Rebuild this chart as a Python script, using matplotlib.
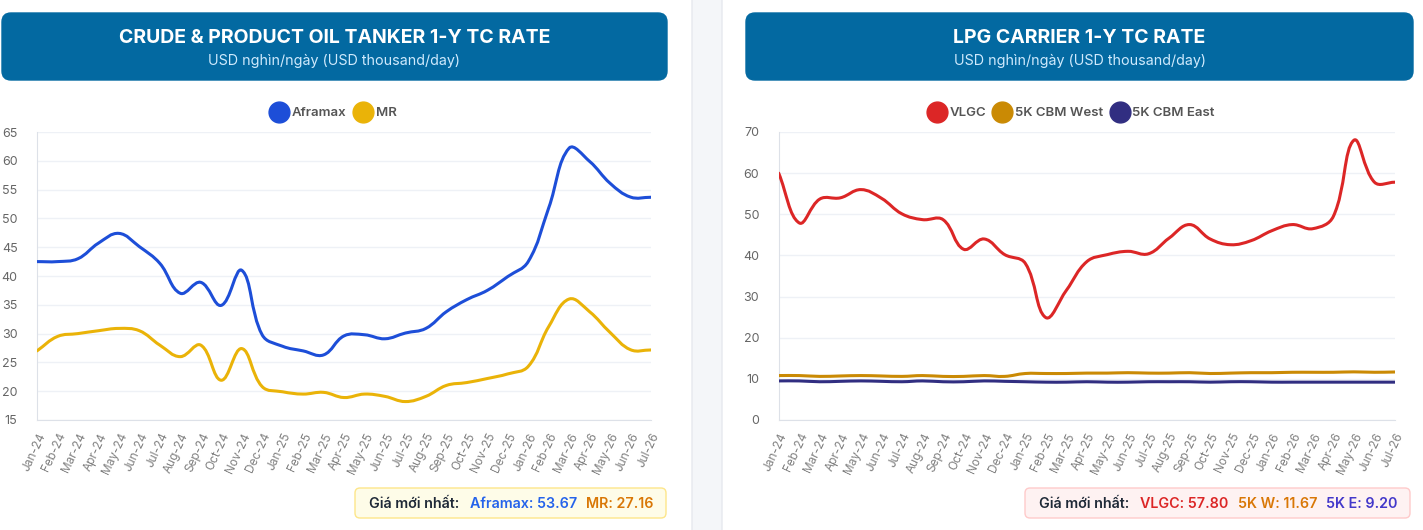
import numpy as np
import matplotlib
matplotlib.use("Agg")
import matplotlib.pyplot as plt
from matplotlib.path import Path
from matplotlib.patches import PathPatch, FancyBboxPatch
from matplotlib.lines import Line2D

plt.rcParams['font.family'] = ['Inter', 'DejaVu Sans']

# du lieu doc tu hinh
months = ["Jan-24", "Feb-24", "Mar-24", "Apr-24", "May-24", "Jun-24", "Jul-24", "Aug-24",
          "Sep-24", "Oct-24", "Nov-24", "Dec-24", "Jan-25", "Feb-25", "Mar-25", "Apr-25",
          "May-25", "Jun-25", "Jul-25", "Aug-25", "Sep-25", "Oct-25", "Nov-25", "Dec-25",
          "Jan-26", "Feb-26", "Mar-26", "Apr-26", "May-26", "Jun-26", "Jul-26"]

aframax = [42.5, 42.5, 43.0, 45.7, 47.4, 45.1, 42.2, 37.0, 38.9, 34.9, 41.0, 29.8, 27.8, 27.0,
           26.3, 29.6, 29.8, 29.1, 30.1, 30.9, 33.8, 35.9, 37.5, 39.9, 42.5, 51.8, 62.2, 59.9,
           56.1, 53.7, 53.67]
mr = [27.0, 29.5, 30.0, 30.5, 30.9, 30.5, 28.0, 26.0, 28.0, 21.9, 27.4, 20.8, 19.9, 19.5,
      19.8, 18.9, 19.5, 19.1, 18.2, 19.1, 21.0, 21.5, 22.2, 23.0, 24.3, 31.2, 36.0, 33.8,
      30.2, 27.2, 27.16]

vlgc = [60.0, 47.9, 53.7, 54.0, 56.0, 53.9, 50.1, 48.7, 48.7, 41.5, 44.0, 40.2, 38.1, 24.9,
        31.5, 38.5, 40.2, 41.0, 40.4, 44.2, 47.5, 44.0, 42.6, 43.6, 46.0, 47.5, 46.5, 49.5,
        68.0, 57.8, 57.80]
cbm_west = [10.8, 10.8, 10.6, 10.7, 10.8, 10.7, 10.6, 10.8, 10.6, 10.6, 10.8, 10.6, 11.3, 11.3,
            11.3, 11.4, 11.4, 11.5, 11.4, 11.4, 11.5, 11.3, 11.4, 11.5, 11.5, 11.6, 11.6, 11.6,
            11.7, 11.6, 11.67]
cbm_east = [9.5, 9.5, 9.3, 9.4, 9.5, 9.4, 9.3, 9.5, 9.3, 9.3, 9.5, 9.4, 9.3, 9.2, 9.2, 9.3,
            9.2, 9.2, 9.3, 9.3, 9.3, 9.2, 9.3, 9.3, 9.2, 9.2, 9.2, 9.2, 9.2, 9.2, 9.20]

W, H = 1423, 530
fig = plt.figure(figsize=(W / 100, H / 100), dpi=100)
fig.patch.set_facecolor('#f4f6f9')


def px(x, y):
    # pixel (tu goc tren trai) -> toa do figure
    return x / W, 1 - y / H


def box(x0, y0, x1, y1, fc, ec, r, lw=1.0, z=0):
    p = FancyBboxPatch(px(x0, y1), (x1 - x0) / W, (y1 - y0) / H,
                       boxstyle="round,pad=0,rounding_size=%f" % (r / W),
                       transform=fig.transFigure, fc=fc, ec=ec, lw=lw, zorder=z,
                       mutation_aspect=W / H)
    fig.add_artist(p)


# the card nen
box(-20, -20, 692, 560, 'white', '#e6e9ee', 12)
box(722, -20, 1440, 560, 'white', '#e6e9ee', 12)


def smooth(ax, x, y, color, sx, sy, t=0.4):
    # duong cong kieu chart.js (tension 0.4)
    x = np.asarray(x, float)
    y = np.asarray(y, float)
    n = len(x)
    cp_prev = np.zeros((n, 2))
    cp_next = np.zeros((n, 2))
    for i in range(n):
        x0, y0 = (x[i - 1], y[i - 1]) if i > 0 else (x[i], y[i])
        x2, y2 = (x[i + 1], y[i + 1]) if i < n - 1 else (x[i], y[i])
        d01 = np.hypot((x[i] - x0) * sx, (y[i] - y0) * sy)
        d12 = np.hypot((x2 - x[i]) * sx, (y2 - y[i]) * sy)
        s01 = d01 / (d01 + d12) if d01 + d12 else 0
        s12 = d12 / (d01 + d12) if d01 + d12 else 0
        fa, fb = t * s01, t * s12
        cp_prev[i] = (x[i] - fa * (x2 - x0), y[i] - fa * (y2 - y0))
        cp_next[i] = (x[i] + fb * (x2 - x0), y[i] + fb * (y2 - y0))
    verts = [(x[0], y[0])]
    codes = [Path.MOVETO]
    for i in range(1, n):
        verts += [tuple(cp_next[i - 1]), tuple(cp_prev[i]), (x[i], y[i])]
        codes += [Path.CURVE4] * 3
    ax.add_patch(PathPatch(Path(verts, codes), fc='none', ec=color, lw=2.2,
                           capstyle='round', joinstyle='round', zorder=3))


def setup_axes(rect, ylo, yhi, step):
    ax = fig.add_axes(rect)
    ax.set_xlim(0, len(months) - 1)
    ax.set_ylim(ylo, yhi)
    ax.set_yticks(np.arange(ylo, yhi + 0.1, step))
    ax.set_xticks(np.arange(len(months)))
    ax.set_xticklabels(months, rotation=65, ha='right', rotation_mode='anchor',
                       fontsize=8.5, color='#808080')
    ax.tick_params(axis='y', labelsize=9, labelcolor='#666666', length=0, pad=14)
    ax.tick_params(axis='x', length=0, pad=8)
    ax.grid(axis='y', color='#eef1f6', lw=1)
    for s in ['top', 'right']:
        ax.spines[s].set_visible(False)
    for s in ['left', 'bottom']:
        ax.spines[s].set_color('#dde1e8')
    ax.set_facecolor('none')
    return ax


xs = np.arange(len(months))

# ---- bieu do trai ----
ax1 = setup_axes([37 / W, 1 - 420 / H, 614 / W, 288 / H], 15, 65, 5)
smooth(ax1, xs, aframax, '#1d4ed8', 20.5, 5.76)
smooth(ax1, xs, mr, '#eab308', 20.5, 5.76)

# ---- bieu do phai ----
ax2 = setup_axes([778.7 / W, 1 - 420 / H, 616.3 / W, 288 / H], 0, 70, 10)
smooth(ax2, xs, vlgc, '#dc2626', 20.5, 4.11)
smooth(ax2, xs, cbm_west, '#ca8a04', 20.5, 4.11)
smooth(ax2, xs, cbm_east, '#312e81', 20.5, 4.11)


def legend(names, colors, cx):
    h = [Line2D([], [], ls='none', marker='o', ms=15, mfc=c, mec=c) for c in colors]
    fig.legend(h, names, loc='center', bbox_to_anchor=px(cx, 113), ncol=len(names),
               frameon=False, handlelength=1.45, handletextpad=0.25, columnspacing=0.5,
               prop={'size': 9.5, 'weight': 'semibold'}, labelcolor='#555555')


legend(["Aframax", "MR"], ['#1d4ed8', '#eab308'], 333)
legend(["VLGC", "5K CBM West", "5K CBM East"], ['#dc2626', '#ca8a04', '#312e81'], 1071)

# ---- tieu de ----
hdr = '#0369a1'
box(2, 13, 667, 80, hdr, hdr, 9, z=1)
box(746, 13, 1413, 80, hdr, hdr, 9, z=1)
for cx, title in [(334.5, "CRUDE & PRODUCT OIL TANKER 1-Y TC RATE"),
                  (1079.5, "LPG CARRIER 1-Y TC RATE")]:
    fig.text(*px(cx, 38), title, ha='center', va='center', color='white',
             fontsize=14, fontweight='bold', zorder=2)
    fig.text(*px(cx, 61), "USD nghìn/ngày (USD thousand/day)", ha='center', va='center',
             color='#cfeafd', fontsize=10.3, zorder=2)

# ---- o gia moi nhat ----
box(355, 488, 666, 518, '#fefce8', '#fde68a', 5, z=1)
box(1025, 488, 1410, 518, '#fef2f2', '#fecaca', 5, z=1)

fig.canvas.draw()
rend = fig.canvas.get_renderer()


def chain(x0, parts):
    x = x0
    for s, c, gap in parts:
        t = fig.text(*px(x, 503.5), s, ha='left', va='center', color=c, fontsize=10.3,
                     fontweight='semibold', zorder=2)
        bb = t.get_window_extent(renderer=rend)
        x += bb.width + gap


chain(369, [("Giá mới nhất:", '#1f2937', 11), ("Aframax: 53.67", '#2563eb', 9),
            ("MR: 27.16", '#d97706', 0)])
chain(1039, [("Giá mới nhất:", '#1f2937', 11), ("VLGC: 57.80", '#dc2626', 9),
             ("5K W: 11.67", '#d97706', 9), ("5K E: 9.20", '#4338ca', 0)])

fig.savefig("out.png", dpi=100, facecolor=fig.get_facecolor())
